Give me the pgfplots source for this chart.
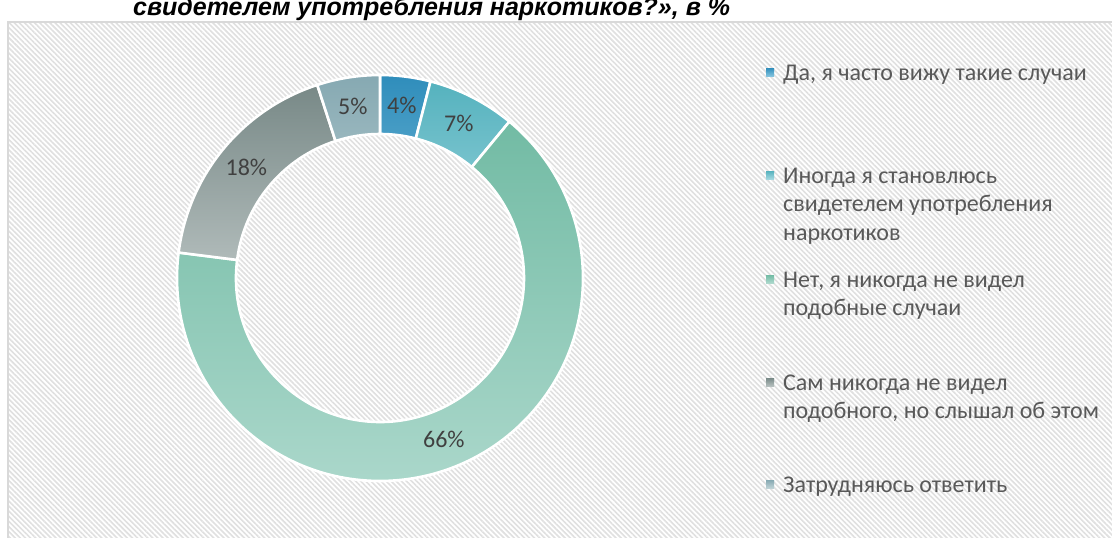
\documentclass[border=0pt]{standalone}
\usepackage{pgfplots}
\pgfplotsset{compat=1.18}
\usepackage{pgfplotstable}
\usetikzlibrary{calc,patterns.meta}
\usepackage{fontspec}
\setmainfont{Carlito}
\newfontfamily\titlefont{Liberation Sans}

\definecolor{c0t}{HTML}{2F8DBB}\definecolor{c0b}{HTML}{82C3DE}
\definecolor{c1t}{HTML}{55B2BE}\definecolor{c1b}{HTML}{A3D8E0}
\definecolor{c2t}{HTML}{72BBA4}\definecolor{c2b}{HTML}{AED9CD}
\definecolor{c3t}{HTML}{788987}\definecolor{c3b}{HTML}{B5BFBE}
\definecolor{c4t}{HTML}{86A9B2}\definecolor{c4b}{HTML}{BED2D6}
\definecolor{legtext}{HTML}{595959}
\definecolor{labtext}{HTML}{404040}
\definecolor{hatch}{HTML}{E0E0E0}
\definecolor{frame}{HTML}{D9D9D9}

\pgfplotstableread[col sep=comma]{
value,label
4,Да
7,Иногда
66,Нет
18,Сам
5,Затрудняюсь
}\data

\newcommand{\legline}[2]{\node at (axis cs:783,#1) {\begin{tabular}[t]{@{}l@{}}#2\end{tabular}};}

\begin{document}
\begin{tikzpicture}
\begin{axis}[
  width=1112pt, height=538pt, scale only axis,
  xmin=0, xmax=1112, ymin=0, ymax=538, y dir=reverse,
  hide axis, clip=false, at={(0,0)}, anchor=south west]
% background frame with hatching
\fill[white] (axis cs:8,22) rectangle (axis cs:1125,550);
\fill[pattern={Lines[angle=-45,distance=3.6pt,line width=1.6pt]}, pattern color=hatch] (axis cs:8,22) rectangle (axis cs:1125,550);
\draw[frame, line width=1.2pt] (axis cs:8,550) -- (axis cs:8,22) -- (axis cs:1125,22);
% title (partly cut off at the top)
\node[anchor=base west, inner sep=0pt, text=black, font=\titlefont\bfseries\itshape\fontsize{25}{30}\selectfont] at (axis cs:133,16) {свидетелем употребления наркотиков?», в \%};
% donut slices
\xdef\cum{0}
\pgfplotsinvokeforeach{0,...,4}{
  \pgfplotstablegetelem{#1}{value}\of\data
  \xdef\v{\pgfplotsretval}
  \pgfmathsetmacro\aS{90-3.6*\cum}
  \pgfmathsetmacro\aE{90-3.6*(\cum+\v)}
  \pgfmathsetmacro\aM{90-3.6*(\cum+\v/2)}
  \edef\temp{\noexpand\shadedraw[top color=c#1t, bottom color=c#1b, draw=white, line width=2.6pt, line join=miter]
    (axis cs:380,278) ++(\aS:203pt) arc[start angle=\aS, end angle=\aE, radius=203pt]
    -- ($(axis cs:380,278)+(\aE:144pt)$) arc[start angle=\aE, end angle=\aS, radius=144pt] -- cycle;
    \noexpand\node[text=labtext, font=\noexpand\fontsize{24}{28}\noexpand\selectfont] at ($(axis cs:380,278)+(\aM:173.5pt)$) {\v\noexpand\%};}
  \temp
  \pgfmathsetmacro\tmpc{\cum+\v}
  \xdef\cum{\tmpc}
}
% legend
\shade[top color=c0t, bottom color=c0b] (axis cs:766,68) rectangle (axis cs:774,76);
\shade[top color=c1t, bottom color=c1b] (axis cs:766,171) rectangle (axis cs:774,179);
\shade[top color=c2t, bottom color=c2b] (axis cs:766,275) rectangle (axis cs:774,283);
\shade[top color=c3t, bottom color=c3b] (axis cs:766,378) rectangle (axis cs:774,386);
\shade[top color=c4t, bottom color=c4b] (axis cs:766,480) rectangle (axis cs:774,488);
\begin{scope}[every node/.style={anchor=base west, inner sep=0pt, text=legtext, font=\fontsize{24}{28.5}\selectfont}]
\legline{80}{Да, я часто вижу такие случаи}
\legline{183}{Иногда я становлюсь\\свидетелем употребления\\наркотиков}
\legline{287}{Нет, я никогда не видел\\подобные случаи}
\legline{390}{Сам никогда не видел\\подобного, но слышал об этом}
\legline{492}{Затрудняюсь ответить}
\end{scope}
\end{axis}
\pgfresetboundingbox
\path[use as bounding box] (0,0) rectangle (1112pt,538pt);
\end{tikzpicture}
\end{document}
